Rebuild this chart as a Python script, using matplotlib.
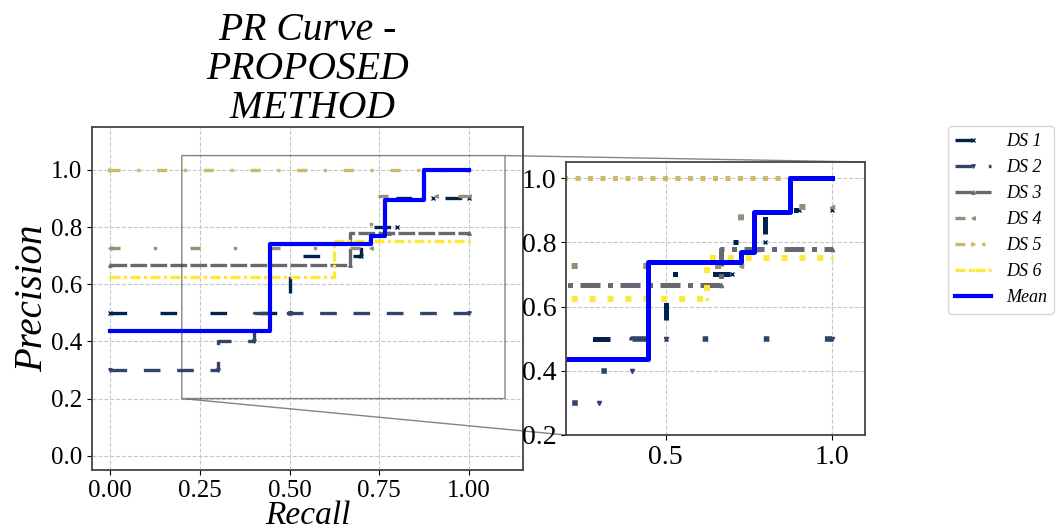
import matplotlib
matplotlib.use("Agg")
import matplotlib.pyplot as plt

plt.rcParams['font.family'] = ['Liberation Serif', 'DejaVu Serif']
plt.rcParams['mathtext.fontset'] = 'stix'

# ---- data ----
labels = ["DS 1", "DS 2", "DS 3", "DS 4", "DS 5", "DS 6"]
ds1_recall = [0.0, 0.5, 0.7, 0.8, 0.9, 1.0]
ds1_precision = [0.5, 0.5, 0.7, 0.8, 0.9, 0.9]
ds2_recall = [0.0, 0.3, 0.4, 0.5, 1.0]
ds2_precision = [0.3, 0.3, 0.4, 0.5, 0.5]
ds3_recall = [0.0, 0.667, 0.778, 1.0]
ds3_precision = [0.667, 0.667, 0.778, 0.778]
ds4_recall = [0.0, 0.727, 0.909, 1.0]
ds4_precision = [0.727, 0.727, 0.909, 0.909]
ds5_recall = [0.0, 1.0]
ds5_precision = [1.0, 1.0]
ds6_recall = [0.0, 0.625, 0.75, 1.0]
ds6_precision = [0.625, 0.625, 0.75, 0.75]
mean_recall = [0.0, 0.446, 0.728, 0.765, 0.875, 1.0]
mean_precision = [0.4375, 0.4375, 0.74, 0.77, 0.895, 1.0]

recalls = [ds1_recall, ds2_recall, ds3_recall, ds4_recall, ds5_recall, ds6_recall]
precisions = [ds1_precision, ds2_precision, ds3_precision, ds4_precision,
              ds5_precision, ds6_precision]

colors = ["#00224e", "#31446b", "#666970", "#958f78", "#cbba69", "#fee838"]
markers = ["x", "v", "^", "<", ">", "."]
main_styles = [(0, (5, 10)), (0, (5, 5)), (0, (5, 1)),
               (0, (3, 10, 1, 10)), (0, (3, 5, 1, 5)), (0, (3, 1, 1, 1))]
inset_styles = [(0, (3.5, 7, 1, 7)), (0, (3, 10, 1, 10, 1, 10)), (0, (4, 1.5, 1, 1.5)),
                (0, (1, 11)), (0, (1, 1.5)), (0, (1, 2))]
inset_lw = [3.6, 4.0, 3.6, 4.3, 3.6, 4.3]

W, H = 1059, 532
fig = plt.figure(figsize=(W / 100, H / 100), dpi=100)
ax = fig.add_axes([92 / W, 1 - 470 / H, 431 / W, 343 / H])
axins = fig.add_axes([566 / W, 1 - 435 / H, 299 / W, 273 / H])

for i in range(6):
    ax.step(recalls[i], precisions[i], where='pre', color=colors[i],
            linestyle=main_styles[i], linewidth=2.4, marker=markers[i],
            markersize=2.5, label=labels[i])
    axins.step(recalls[i], precisions[i], where='pre', color=colors[i],
               linestyle=inset_styles[i], linewidth=inset_lw[i], marker=markers[i],
               markersize=3)
ax.step(mean_recall, mean_precision, where='pre', color='blue', linewidth=3,
        label='Mean')
axins.step(mean_recall, mean_precision, where='pre', color='blue', linewidth=3.6)

ax.set_xlim(-0.05, 1.15)
ax.set_ylim(-0.05, 1.15)
ax.set_xticks([0.0, 0.25, 0.5, 0.75, 1.0])
ax.set_xticklabels(["0.00", "0.25", "0.50", "0.75", "1.00"])
ax.set_yticks([0.0, 0.2, 0.4, 0.6, 0.8, 1.0])
ax.set_yticklabels(["0.0", "0.2", "0.4", "0.6", "0.8", "1.0"])
ax.tick_params(labelsize=18, length=3.5, width=0.8, colors='black')
ax.grid(True, linestyle='--', color='#c8c8c8', linewidth=0.8)
ax.set_axisbelow(True)
ax.set_xlabel("Recall", fontsize=24, style='italic', labelpad=-1)
ax.set_ylabel("Precision", fontsize=28, style='italic')
ax.yaxis.set_label_coords(-0.095, 0.5)
ax.set_title("PR Curve -\nPROPOSED\n METHOD", fontsize=28.5, style='italic', pad=6,
             linespacing=1.08)
for s in ax.spines.values():
    s.set_color('#444444')
    s.set_linewidth(1.3)

axins.set_xlim(0.2, 1.1)
axins.set_ylim(0.2, 1.05)
axins.set_xticks([0.5, 1.0])
axins.set_xticklabels(["0.5", "1.0"])
axins.set_yticks([0.2, 0.4, 0.6, 0.8, 1.0])
axins.set_yticklabels(["0.2", "0.4", "0.6", "0.8", "1.0"])
axins.tick_params(labelsize=20, length=3.5, width=0.8)
axins.grid(True, linestyle='--', color='#c8c8c8', linewidth=0.8)
axins.set_axisbelow(True)
for s in axins.spines.values():
    s.set_color('#444444')
    s.set_linewidth(1.3)

ax.indicate_inset_zoom(axins, edgecolor='0.2', alpha=0.6, linewidth=1.0)

leg = fig.legend(loc='upper left', bbox_to_anchor=(948 / W, 1 - 126 / H),
                 borderaxespad=0, prop={'style': 'italic', 'size': 13},
                 frameon=True)

fig.savefig("out.png", dpi=100)
